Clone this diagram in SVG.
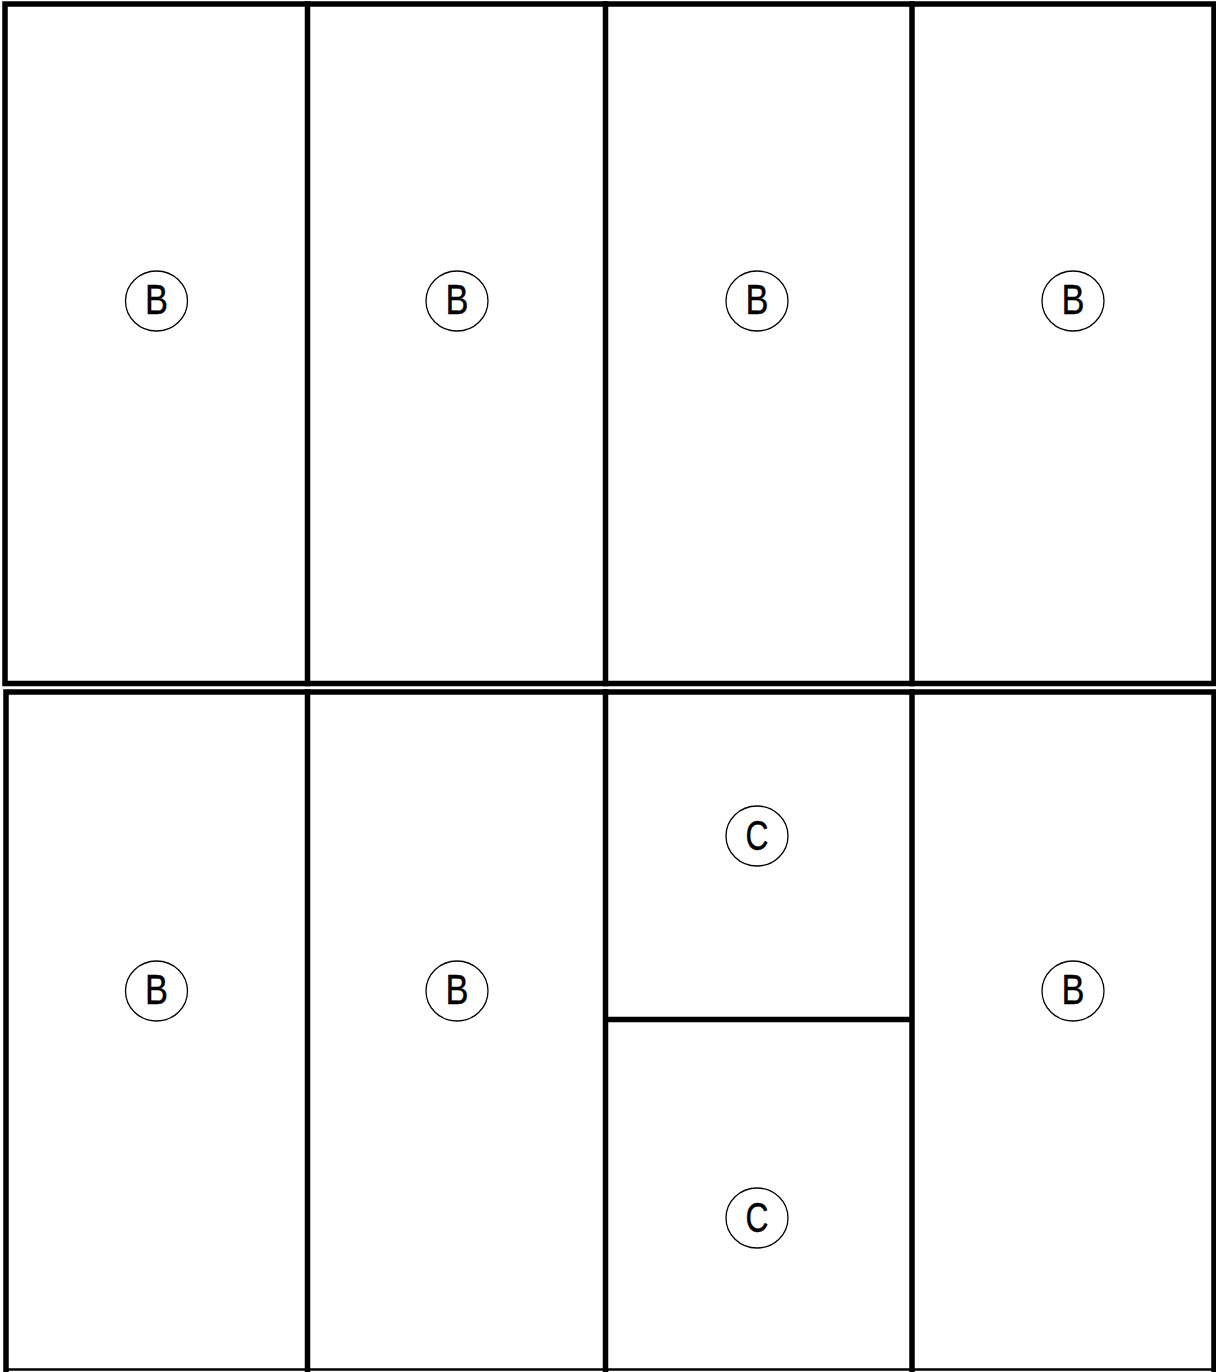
<svg xmlns="http://www.w3.org/2000/svg" width="1216" height="1372" viewBox="0 0 1216 1372">
<style>
.w{fill:none;stroke:#000;stroke-width:5.5;stroke-linecap:square}
.tag ellipse{fill:#fff;stroke:#000;stroke-width:1.3}
.tag text{font-family:"Liberation Sans",Arial,sans-serif;font-size:43px;text-anchor:middle;fill:#000;stroke:#000;stroke-width:0.4}
</style>
<rect width="1216" height="1372" fill="#fff"/>
<g id="walls">
<path class="w" d="M5,4 H1214 V683.5 H5 Z"/>
<path class="w" d="M307.5,4 V683.5 M605.5,4 V683.5 M912,4 V683.5"/>
<path class="w" d="M6,1375 V692 H1214 V1375"/>
<path class="w" d="M307.5,692 V1372 M605.5,692 V1372 M912,692 V1372 M605.5,1019.5 H912"/>
<path d="M6,1369.5 H1214" fill="none" stroke="#000" stroke-width="2.5"/>
</g>
<g id="tag-b1" class="tag"><ellipse cx="156.5" cy="301" rx="31" ry="30"/><text x="156.5" y="314" textLength="23" lengthAdjust="spacingAndGlyphs">B</text></g>
<g id="tag-b2" class="tag"><ellipse cx="457" cy="301" rx="31" ry="30"/><text x="457" y="314" textLength="23" lengthAdjust="spacingAndGlyphs">B</text></g>
<g id="tag-b3" class="tag"><ellipse cx="757" cy="301" rx="31" ry="30"/><text x="757" y="314" textLength="23" lengthAdjust="spacingAndGlyphs">B</text></g>
<g id="tag-b4" class="tag"><ellipse cx="1073" cy="301" rx="31" ry="30"/><text x="1073" y="314" textLength="23" lengthAdjust="spacingAndGlyphs">B</text></g>
<g id="tag-b5" class="tag"><ellipse cx="156.5" cy="991" rx="31" ry="30"/><text x="156.5" y="1004" textLength="23" lengthAdjust="spacingAndGlyphs">B</text></g>
<g id="tag-b6" class="tag"><ellipse cx="457" cy="991" rx="31" ry="30"/><text x="457" y="1004" textLength="23" lengthAdjust="spacingAndGlyphs">B</text></g>
<g id="tag-b7" class="tag"><ellipse cx="1073" cy="991" rx="31" ry="30"/><text x="1073" y="1004" textLength="23" lengthAdjust="spacingAndGlyphs">B</text></g>
<g id="tag-c1" class="tag"><ellipse cx="757" cy="836" rx="31" ry="30"/><text x="757" y="850" textLength="23" lengthAdjust="spacingAndGlyphs">C</text></g>
<g id="tag-c2" class="tag"><ellipse cx="757" cy="1218" rx="31" ry="30"/><text x="757" y="1232" textLength="23" lengthAdjust="spacingAndGlyphs">C</text></g>
</svg>
